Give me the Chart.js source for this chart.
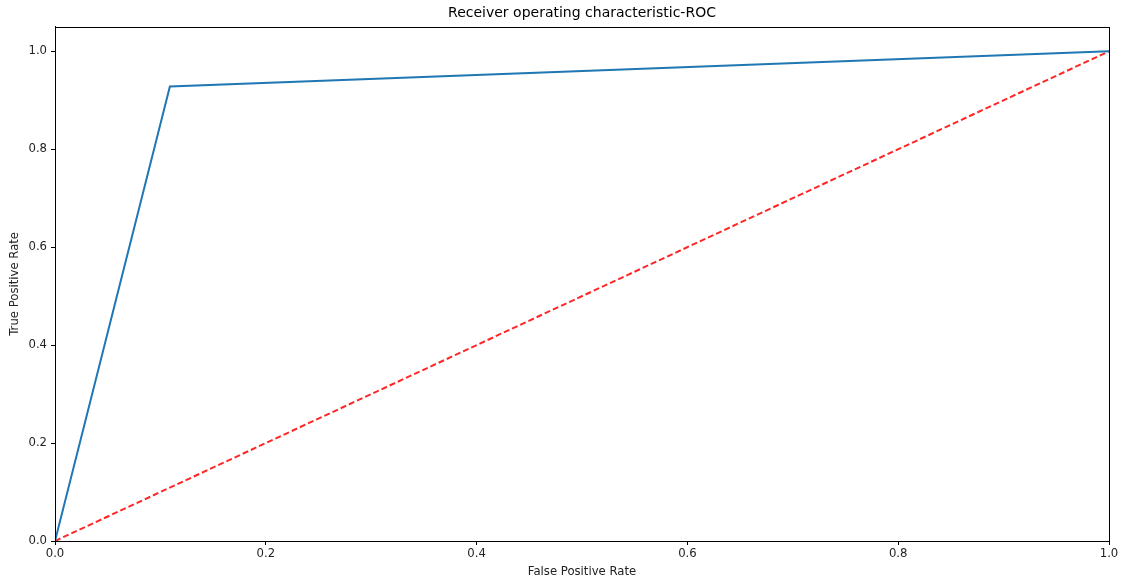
<!DOCTYPE html>
<html>
<head>
<meta charset="utf-8">
<script src="https://cdn.jsdelivr.net/npm/chart.js@4.4.0/dist/chart.umd.min.js"></script>
<style>
  html, body { margin: 0; padding: 0; background: #fff; }
  #wrap { width: 1123px; height: 583px; position: relative; }
</style>
</head>
<body>
<div id="wrap"><canvas id="roc" width="1123" height="583"></canvas></div>
<script>
// ROC curve points
const fpr = [0, 0.109, 1];
const tpr = [0, 0.928, 1];
// chance diagonal
const chanceX = [0, 1];
const chanceY = [0, 1];
const tickValues = [0, 0.2, 0.4, 0.6, 0.8, 1.0];

const toPoints = (xs, ys) => xs.map((x, i) => ({ x: x, y: ys[i] }));

// draw a full box (all four spines) around the plotting area
const frame = {
  id: 'frame',
  afterDatasetsDraw(chart) {
    const { ctx, chartArea: a } = chart;
    ctx.save();
    ctx.strokeStyle = '#000';
    ctx.lineWidth = 1;
    ctx.strokeRect(Math.round(a.left) + 0.5, Math.round(a.top) + 0.5,
                   Math.round(a.right - a.left), Math.round(a.bottom - a.top));
    ctx.restore();
  }
};

const keepTicks = (axis) => {
  axis.ticks = tickValues.map(v => ({ value: v }));
};

const labelFont = { family: 'DejaVu Sans', size: 11.67 };

new Chart(document.getElementById('roc'), {
  type: 'scatter',
  data: {
    datasets: [
      {
        data: toPoints(fpr, tpr),
        showLine: true,
        borderColor: '#1f77b4',
        borderWidth: 2,
        pointRadius: 0,
        fill: false,
        tension: 0
      },
      {
        data: toPoints(chanceX, chanceY),
        showLine: true,
        borderColor: 'rgba(255,0,0,0.85)',
        borderWidth: 2,
        borderDash: [6, 3],
        pointRadius: 0,
        fill: false,
        tension: 0
      }
    ]
  },
  options: {
    responsive: false,
    animation: false,
    devicePixelRatio: 1,
    layout: { padding: { left: 0, right: 14, top: 0, bottom: 0 } },
    plugins: {
      legend: { display: false },
      tooltip: { enabled: false },
      title: {
        display: true,
        fullSize: false,
        text: 'Receiver operating characteristic-ROC',
        color: '#000',
        font: { family: 'DejaVu Sans', size: 14, weight: 'normal' },
        padding: { top: 5, bottom: 5 }
      }
    },
    scales: {
      x: {
        type: 'linear',
        min: 0,
        max: 1,
        afterBuildTicks: keepTicks,
        grid: { drawOnChartArea: false, drawTicks: true, tickLength: 4, color: '#000' },
        border: { display: true, color: '#000' },
        ticks: {
          color: '#222',
          padding: 2,
          maxRotation: 0,
          font: labelFont,
          callback: v => Number(v).toFixed(1)
        },
        title: {
          display: true,
          text: 'False Positive Rate',
          color: '#222',
          font: labelFont,
          padding: { top: 3, bottom: 4 }
        },
        afterFit: s => { s.height = 42; }
      },
      y: {
        type: 'linear',
        min: 0,
        max: 1.05,
        afterBuildTicks: keepTicks,
        grid: { drawOnChartArea: false, drawTicks: true, tickLength: 4, color: '#000' },
        border: { display: true, color: '#000' },
        ticks: {
          color: '#222',
          padding: 4,
          font: labelFont,
          callback: v => Number(v).toFixed(1)
        },
        title: {
          display: true,
          text: 'True Positive Rate',
          color: '#222',
          font: labelFont,
          padding: { top: 8, bottom: 4 }
        },
        afterFit: s => { s.width = 55; }
      }
    }
  },
  plugins: [frame]
});
</script>
</body>
</html>
